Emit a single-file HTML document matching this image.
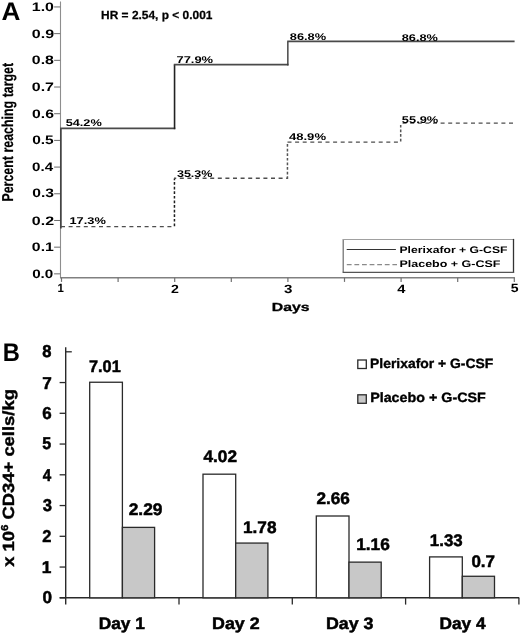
<!DOCTYPE html>
<html><head><meta charset="utf-8"><style>
html,body{margin:0;padding:0;background:#fff;width:520px;height:634px;overflow:hidden}
svg{display:block;font-family:"Liberation Sans", sans-serif;will-change:transform;text-rendering:geometricPrecision}
</style></head><body>
<svg width="520" height="634" viewBox="0 0 520 634">
<rect x="0" y="0" width="520" height="634" fill="#fff"/>
<line x1="60.5" y1="1.5" x2="60.5" y2="277.0" stroke="#8e8e8e" stroke-width="1.1"/>
<line x1="59.95" y1="277.75" x2="514.9" y2="277.75" stroke="#808080" stroke-width="1.5"/>
<line x1="54.1" y1="6.95" x2="60.2" y2="6.95" stroke="#6a6a6a" stroke-width="1.0"/>
<line x1="54.1" y1="33.64" x2="60.2" y2="33.64" stroke="#6a6a6a" stroke-width="1.0"/>
<line x1="54.1" y1="60.330000000000005" x2="60.2" y2="60.330000000000005" stroke="#6a6a6a" stroke-width="1.0"/>
<line x1="54.1" y1="87.02000000000001" x2="60.2" y2="87.02000000000001" stroke="#6a6a6a" stroke-width="1.0"/>
<line x1="54.1" y1="113.71000000000001" x2="60.2" y2="113.71000000000001" stroke="#6a6a6a" stroke-width="1.0"/>
<line x1="54.1" y1="140.4" x2="60.2" y2="140.4" stroke="#6a6a6a" stroke-width="1.0"/>
<line x1="54.1" y1="167.09" x2="60.2" y2="167.09" stroke="#6a6a6a" stroke-width="1.0"/>
<line x1="54.1" y1="193.78" x2="60.2" y2="193.78" stroke="#6a6a6a" stroke-width="1.0"/>
<line x1="54.1" y1="220.47" x2="60.2" y2="220.47" stroke="#6a6a6a" stroke-width="1.0"/>
<line x1="54.1" y1="247.16" x2="60.2" y2="247.16" stroke="#6a6a6a" stroke-width="1.0"/>
<line x1="54.1" y1="273.85" x2="60.2" y2="273.85" stroke="#6a6a6a" stroke-width="1.0"/>
<line x1="61.5" y1="277.75" x2="61.5" y2="281.9" stroke="#707070" stroke-width="1.2"/>
<line x1="118.1" y1="277.75" x2="118.1" y2="281.9" stroke="#707070" stroke-width="1.2"/>
<line x1="174.7" y1="277.75" x2="174.7" y2="281.9" stroke="#707070" stroke-width="1.2"/>
<line x1="231.3" y1="277.75" x2="231.3" y2="281.9" stroke="#707070" stroke-width="1.2"/>
<line x1="287.9" y1="277.75" x2="287.9" y2="281.9" stroke="#707070" stroke-width="1.2"/>
<line x1="344.5" y1="277.75" x2="344.5" y2="281.9" stroke="#707070" stroke-width="1.2"/>
<line x1="401.1" y1="277.75" x2="401.1" y2="281.9" stroke="#707070" stroke-width="1.2"/>
<line x1="457.7" y1="277.75" x2="457.7" y2="281.9" stroke="#707070" stroke-width="1.2"/>
<line x1="514.3" y1="277.75" x2="514.3" y2="281.9" stroke="#707070" stroke-width="1.2"/>
<line x1="60.9" y1="228.5" x2="60.9" y2="128.4" stroke="#3c3c3c" stroke-width="1.6"/>
<line x1="60.1" y1="128.4" x2="175.3" y2="128.4" stroke="#4a4a4a" stroke-width="1.7"/>
<line x1="174.55" y1="129.2" x2="174.55" y2="64.6" stroke="#222" stroke-width="1.6"/>
<line x1="173.8" y1="64.6" x2="288.5" y2="64.6" stroke="#4a4a4a" stroke-width="1.7"/>
<line x1="287.85" y1="65.4" x2="287.85" y2="41.4" stroke="#3a3a3a" stroke-width="1.4"/>
<line x1="287.2" y1="41.4" x2="514.6" y2="41.4" stroke="#4a4a4a" stroke-width="1.7"/>
<line x1="61.0" y1="226.6" x2="172.5" y2="226.6" stroke="#4e4e4e" stroke-width="1.4" stroke-dasharray="4.0 3.6" stroke-dashoffset="0.0"/>
<line x1="174.45" y1="226.2" x2="174.45" y2="178.6" stroke="#1e1e1e" stroke-width="1.5" stroke-dasharray="2.7 1.9"/>
<line x1="174.0" y1="178.2" x2="287.0" y2="178.2" stroke="#4e4e4e" stroke-width="1.4" stroke-dasharray="4.0 3.6" stroke-dashoffset="1.8"/>
<line x1="287.45" y1="179.0" x2="287.45" y2="142.8" stroke="#555" stroke-width="1.5" stroke-dasharray="2.7 1.9"/>
<line x1="287.5" y1="142.1" x2="400.0" y2="142.1" stroke="#4e4e4e" stroke-width="1.4" stroke-dasharray="4.0 3.6" stroke-dashoffset="0.0"/>
<line x1="400.7" y1="141.4" x2="400.7" y2="123.8" stroke="#555" stroke-width="1.5" stroke-dasharray="2.7 1.9"/>
<line x1="402.6" y1="123.1" x2="514.6" y2="123.1" stroke="#4e4e4e" stroke-width="1.4" stroke-dasharray="4.0 3.6" stroke-dashoffset="0.0"/>
<line x1="343.2" y1="239.5" x2="343.2" y2="272.3" stroke="#6a6a6a" stroke-width="1.2"/>
<line x1="342.6" y1="239.5" x2="514.1" y2="239.5" stroke="#a0a0a0" stroke-width="1.2"/>
<line x1="513.5" y1="238.9" x2="513.5" y2="272.9" stroke="#333" stroke-width="1.3"/>
<line x1="342.6" y1="272.3" x2="514.1" y2="272.3" stroke="#555" stroke-width="1.2"/>
<line x1="346.7" y1="249.5" x2="395.9" y2="249.5" stroke="#333" stroke-width="1.2"/>
<line x1="346.8" y1="264.7" x2="397" y2="264.7" stroke="#8a8a8a" stroke-width="1.3" stroke-dasharray="4.8 2.8"/>
<line x1="65.7" y1="347.3" x2="65.7" y2="604.6" stroke="#2a2a2a" stroke-width="1.4"/>
<line x1="59.7" y1="597.8" x2="519.2" y2="597.8" stroke="#2a2a2a" stroke-width="1.4"/>
<line x1="59.6" y1="597.8" x2="65.7" y2="597.8" stroke="#2a2a2a" stroke-width="1.3"/>
<line x1="59.6" y1="567.05" x2="65.7" y2="567.05" stroke="#2a2a2a" stroke-width="1.3"/>
<line x1="59.6" y1="536.3" x2="65.7" y2="536.3" stroke="#2a2a2a" stroke-width="1.3"/>
<line x1="59.6" y1="505.54999999999995" x2="65.7" y2="505.54999999999995" stroke="#2a2a2a" stroke-width="1.3"/>
<line x1="59.6" y1="474.79999999999995" x2="65.7" y2="474.79999999999995" stroke="#2a2a2a" stroke-width="1.3"/>
<line x1="59.6" y1="444.04999999999995" x2="65.7" y2="444.04999999999995" stroke="#2a2a2a" stroke-width="1.3"/>
<line x1="59.6" y1="413.29999999999995" x2="65.7" y2="413.29999999999995" stroke="#2a2a2a" stroke-width="1.3"/>
<line x1="59.6" y1="382.54999999999995" x2="65.7" y2="382.54999999999995" stroke="#2a2a2a" stroke-width="1.3"/>
<line x1="65.7" y1="351.79999999999995" x2="71.8" y2="351.79999999999995" stroke="#2a2a2a" stroke-width="1.3"/>
<line x1="179.0" y1="597.8" x2="179.0" y2="604.6" stroke="#2a2a2a" stroke-width="1.3"/>
<line x1="292.3" y1="597.8" x2="292.3" y2="604.6" stroke="#2a2a2a" stroke-width="1.3"/>
<line x1="405.59999999999997" y1="597.8" x2="405.59999999999997" y2="604.6" stroke="#2a2a2a" stroke-width="1.3"/>
<line x1="518.9" y1="597.8" x2="518.9" y2="604.6" stroke="#2a2a2a" stroke-width="1.3"/>
<rect x="89.7" y="382.24249999999995" width="32.7" height="215.56" fill="#fff" stroke="#2a2a2a" stroke-width="1.3"/>
<rect x="122.4" y="527.3824999999999" width="32.2" height="70.42" fill="#c8c8c8" stroke="#2a2a2a" stroke-width="1.3"/>
<rect x="203.0" y="474.18499999999995" width="32.7" height="123.62" fill="#fff" stroke="#2a2a2a" stroke-width="1.3"/>
<rect x="235.7" y="543.0649999999999" width="32.2" height="54.74" fill="#c8c8c8" stroke="#2a2a2a" stroke-width="1.3"/>
<rect x="316.3" y="516.005" width="32.7" height="81.79" fill="#fff" stroke="#2a2a2a" stroke-width="1.3"/>
<rect x="349.0" y="562.13" width="32.2" height="35.67" fill="#c8c8c8" stroke="#2a2a2a" stroke-width="1.3"/>
<rect x="429.59999999999997" y="556.9024999999999" width="32.7" height="40.90" fill="#fff" stroke="#2a2a2a" stroke-width="1.3"/>
<rect x="462.29999999999995" y="576.275" width="32.2" height="21.52" fill="#c8c8c8" stroke="#2a2a2a" stroke-width="1.3"/>
<rect x="357.8" y="360" width="8.5" height="8.50" fill="#fff" stroke="#2a2a2a" stroke-width="1.3"/>
<rect x="357.8" y="394.8" width="8.5" height="8.50" fill="#c8c8c8" stroke="#2a2a2a" stroke-width="1.3"/>
<text id="A" x="1.54" y="19.82" font-size="25.50" font-weight="bold" textLength="18.90" lengthAdjust="spacingAndGlyphs">A</text>
<text id="HR" x="101.08" y="19.34" font-size="11.80" font-weight="bold" stroke="#000" stroke-width="0.25" textLength="111.36" lengthAdjust="spacingAndGlyphs">HR = 2.54, p &lt; 0.001</text>
<text id="ya0" x="31.83" y="11.15" font-size="12.20" font-weight="bold" textLength="22.16" lengthAdjust="spacingAndGlyphs">1.0</text>
<text id="ya1" x="31.81" y="37.54" font-size="12.20" font-weight="bold" textLength="22.27" lengthAdjust="spacingAndGlyphs">0.9</text>
<text id="ya2" x="31.85" y="64.28" font-size="12.20" font-weight="bold" textLength="22.03" lengthAdjust="spacingAndGlyphs">0.8</text>
<text id="ya3" x="31.81" y="91.41" font-size="12.20" font-weight="bold" textLength="22.19" lengthAdjust="spacingAndGlyphs">0.7</text>
<text id="ya4" x="32.06" y="117.78" font-size="12.20" font-weight="bold" textLength="21.86" lengthAdjust="spacingAndGlyphs">0.6</text>
<text id="ya5" x="32.21" y="144.08" font-size="12.20" font-weight="bold" textLength="21.55" lengthAdjust="spacingAndGlyphs">0.5</text>
<text id="ya6" x="32.07" y="171.22" font-size="12.20" font-weight="bold" textLength="21.03" lengthAdjust="spacingAndGlyphs">0.4</text>
<text id="ya7" x="32.20" y="197.44" font-size="12.20" font-weight="bold" textLength="21.76" lengthAdjust="spacingAndGlyphs">0.3</text>
<text id="ya8" x="31.82" y="224.59" font-size="12.20" font-weight="bold" textLength="22.24" lengthAdjust="spacingAndGlyphs">0.2</text>
<text id="ya9" x="31.89" y="251.09" font-size="12.20" font-weight="bold" textLength="21.98" lengthAdjust="spacingAndGlyphs">0.1</text>
<text id="ya10" x="32.17" y="278.11" font-size="12.20" font-weight="bold" textLength="21.17" lengthAdjust="spacingAndGlyphs">0.0</text>
<text id="x1" x="57.40" y="292.46" font-size="12.00" font-weight="bold" textLength="6.37" lengthAdjust="spacingAndGlyphs">1</text>
<text id="x2" x="171.00" y="292.64" font-size="12.00" font-weight="bold" textLength="7.90" lengthAdjust="spacingAndGlyphs">2</text>
<text id="x3" x="284.13" y="292.83" font-size="12.00" font-weight="bold" textLength="8.43" lengthAdjust="spacingAndGlyphs">3</text>
<text id="x4" x="397.24" y="292.64" font-size="12.00" font-weight="bold" textLength="8.17" lengthAdjust="spacingAndGlyphs">4</text>
<text id="x5" x="510.79" y="291.89" font-size="12.00" font-weight="bold" textLength="7.82" lengthAdjust="spacingAndGlyphs">5</text>
<text id="Days" x="271.81" y="311.16" font-size="11.80" font-weight="bold" stroke="#000" stroke-width="0.3" textLength="37.72" lengthAdjust="spacingAndGlyphs">Days</text>
<text id="ylabA" x="0" y="0" font-size="15.80" font-weight="bold" stroke="#000" stroke-width="0.2" transform="translate(13.31,201.60) rotate(-90)" textLength="138.75" lengthAdjust="spacingAndGlyphs">Percent reaching target</text>
<text id="p0" x="65.65" y="126.10" font-size="9.80" font-weight="bold" textLength="36.13" lengthAdjust="spacingAndGlyphs">54.2%</text>
<text id="p1" x="69.48" y="224.42" font-size="9.80" font-weight="bold" textLength="36.37" lengthAdjust="spacingAndGlyphs">17.3%</text>
<text id="p2" x="176.46" y="63.36" font-size="9.80" font-weight="bold" textLength="36.65" lengthAdjust="spacingAndGlyphs">77.9%</text>
<text id="p3" x="176.93" y="177.18" font-size="9.80" font-weight="bold" textLength="35.56" lengthAdjust="spacingAndGlyphs">35.3%</text>
<text id="p4" x="289.78" y="40.00" font-size="9.80" font-weight="bold" textLength="36.36" lengthAdjust="spacingAndGlyphs">86.8%</text>
<text id="p5" x="401.73" y="40.54" font-size="9.80" font-weight="bold" textLength="36.11" lengthAdjust="spacingAndGlyphs">86.8%</text>
<text id="p6" x="288.96" y="140.42" font-size="9.80" font-weight="bold" textLength="37.07" lengthAdjust="spacingAndGlyphs">48.9%</text>
<text id="p7" x="401.86" y="123.00" font-size="9.80" font-weight="bold" textLength="36.37" lengthAdjust="spacingAndGlyphs">55.9%</text>
<text id="legA1" x="399.49" y="253.00" font-size="9.60" font-weight="bold" textLength="108.00" lengthAdjust="spacingAndGlyphs">Plerixafor + G-CSF</text>
<text id="legA2" x="399.49" y="267.10" font-size="9.60" font-weight="bold" textLength="100.99" lengthAdjust="spacingAndGlyphs">Placebo + G-CSF</text>
<text id="B" x="2.64" y="360.72" font-size="25.50" font-weight="bold" textLength="17.11" lengthAdjust="spacingAndGlyphs">B</text>
<text id="yb0" x="42.38" y="602.93" font-size="17.20" font-weight="bold" stroke="#000" stroke-width="0.5" textLength="9.53" lengthAdjust="spacingAndGlyphs">0</text>
<text id="yb1" x="41.82" y="572.82" font-size="17.20" font-weight="bold" stroke="#000" stroke-width="0.5" textLength="9.62" lengthAdjust="spacingAndGlyphs">1</text>
<text id="yb2" x="42.29" y="542.27" font-size="17.20" font-weight="bold" stroke="#000" stroke-width="0.5" textLength="9.17" lengthAdjust="spacingAndGlyphs">2</text>
<text id="yb3" x="42.66" y="510.86" font-size="17.20" font-weight="bold" stroke="#000" stroke-width="0.5" textLength="9.25" lengthAdjust="spacingAndGlyphs">3</text>
<text id="yb4" x="42.65" y="481.17" font-size="17.20" font-weight="bold" stroke="#000" stroke-width="0.5" textLength="8.46" lengthAdjust="spacingAndGlyphs">4</text>
<text id="yb5" x="42.32" y="449.48" font-size="17.20" font-weight="bold" stroke="#000" stroke-width="0.5" textLength="8.93" lengthAdjust="spacingAndGlyphs">5</text>
<text id="yb6" x="42.24" y="418.73" font-size="17.20" font-weight="bold" stroke="#000" stroke-width="0.5" textLength="9.43" lengthAdjust="spacingAndGlyphs">6</text>
<text id="yb7" x="42.18" y="388.72" font-size="17.20" font-weight="bold" stroke="#000" stroke-width="0.5" textLength="9.55" lengthAdjust="spacingAndGlyphs">7</text>
<text id="yb8" x="42.30" y="357.35" font-size="17.20" font-weight="bold" stroke="#000" stroke-width="0.5" textLength="9.21" lengthAdjust="spacingAndGlyphs">8</text>
<text id="v0" x="89.00" y="371.55" font-size="16.80" font-weight="bold" stroke="#000" stroke-width="0.5" textLength="31.69" lengthAdjust="spacingAndGlyphs">7.01</text>
<text id="v1" x="128.68" y="515.14" font-size="16.80" font-weight="bold" stroke="#000" stroke-width="0.5" textLength="33.79" lengthAdjust="spacingAndGlyphs">2.29</text>
<text id="v2" x="203.49" y="462.35" font-size="16.80" font-weight="bold" stroke="#000" stroke-width="0.5" textLength="33.52" lengthAdjust="spacingAndGlyphs">4.02</text>
<text id="v3" x="242.97" y="533.33" font-size="16.80" font-weight="bold" stroke="#000" stroke-width="0.5" textLength="33.50" lengthAdjust="spacingAndGlyphs">1.78</text>
<text id="v4" x="316.53" y="504.39" font-size="16.80" font-weight="bold" stroke="#000" stroke-width="0.5" textLength="33.41" lengthAdjust="spacingAndGlyphs">2.66</text>
<text id="v5" x="356.20" y="550.19" font-size="16.80" font-weight="bold" stroke="#000" stroke-width="0.5" textLength="33.60" lengthAdjust="spacingAndGlyphs">1.16</text>
<text id="v6" x="429.88" y="545.70" font-size="16.80" font-weight="bold" stroke="#000" stroke-width="0.5" textLength="32.83" lengthAdjust="spacingAndGlyphs">1.33</text>
<text id="v7" x="471.40" y="567.33" font-size="16.80" font-weight="bold" stroke="#000" stroke-width="0.5" textLength="23.63" lengthAdjust="spacingAndGlyphs">0.7</text>
<text id="d0" x="98.67" y="629.00" font-size="16.60" font-weight="bold" stroke="#000" stroke-width="0.5" textLength="46.23" lengthAdjust="spacingAndGlyphs">Day 1</text>
<text id="d1" x="212.02" y="629.00" font-size="16.60" font-weight="bold" stroke="#000" stroke-width="0.5" textLength="47.64" lengthAdjust="spacingAndGlyphs">Day 2</text>
<text id="d2" x="325.96" y="629.00" font-size="16.60" font-weight="bold" stroke="#000" stroke-width="0.5" textLength="47.55" lengthAdjust="spacingAndGlyphs">Day 3</text>
<text id="d3" x="439.45" y="629.00" font-size="16.60" font-weight="bold" stroke="#000" stroke-width="0.5" textLength="46.10" lengthAdjust="spacingAndGlyphs">Day 4</text>
<text id="legB1" x="370.04" y="367.75" font-size="13.50" font-weight="bold" stroke="#000" stroke-width="0.35" textLength="123.26" lengthAdjust="spacingAndGlyphs">Plerixafor + G-CSF</text>
<text id="legB2" x="370.16" y="402.43" font-size="13.50" font-weight="bold" stroke="#000" stroke-width="0.35" textLength="115.65" lengthAdjust="spacingAndGlyphs">Placebo + G-CSF</text>
<text id="ylabB" x="0" y="0" font-size="16.20" font-weight="bold" stroke="#000" stroke-width="0.4" transform="translate(14.22,566.87) rotate(-90)" textLength="177.85" lengthAdjust="spacingAndGlyphs">x 10<tspan font-size="10" dy="-6.5">6</tspan><tspan dy="6.5"> CD34+ cells/kg</tspan></text>
</svg>
</body></html>
